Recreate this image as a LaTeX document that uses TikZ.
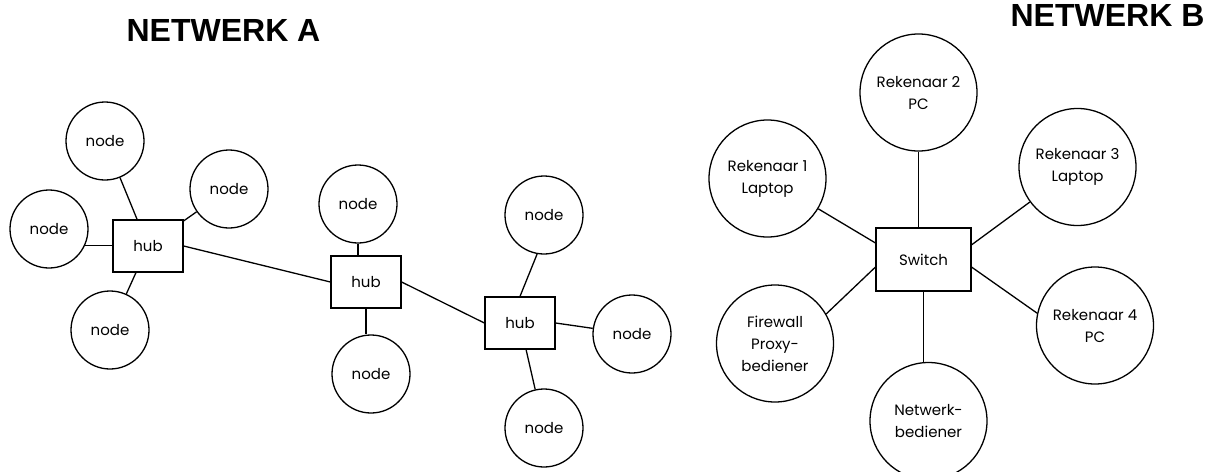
\documentclass[tikz,border=0pt]{standalone}
\usepackage{fontspec}
\setmainfont{Poppins}
\newfontfamily\titelfont{Liberation Sans}
\usetikzlibrary{calc}
\tikzstyle{knoopvorm}=[draw, circle, line width=1.3pt, minimum size=78pt,
  inner sep=0pt, font=\fontsize{15}{22}\selectfont]
\tikzstyle{rekenaarvorm}=[knoopvorm, minimum size=117pt, align=center]
\tikzstyle{spilvorm}=[draw, line width=1.3pt, minimum width=70pt,
  minimum height=52pt, inner sep=0pt, font=\fontsize{15}{22}\selectfont]
\tikzstyle{skakelaarvorm}=[spilvorm, minimum width=95pt, minimum height=63pt]
\tikzstyle{titel}=[font=\titelfont\bfseries\fontsize{32}{38}\selectfont]
\tikzstyle{lyn}=[line width=1.3pt]
\newcommand{\knoop}[2]{node (k#1) [knoopvorm] {#2}}
\newcommand{\rekenaar}[2]{node (r#1) [rekenaarvorm] {#2}}
\newcommand{\spil}[1]{node (h#1) [spilvorm] {hub}}

\begin{document}
\begin{tikzpicture}[x=1pt, y=-1pt]
  \useasboundingbox (0,0) rectangle (1214,471);
  \clip (0,0) rectangle (1214,471);

  % netwerk A
  \node (titelA) [titel] at (223.5,30) {NETWERK A};
  \path (148,246) \spil{1};
  \path (366,282) \spil{2};
  \path (520,323) \spil{3};
  \path (105,141) \knoop{a1}{node};
  \path (229,189) \knoop{a2}{node};
  \path (49,229) \knoop{a3}{node};
  \path (110,330) \knoop{a4}{node};
  \path (358,204) \knoop{a5}{node};
  \path (371,374) \knoop{a6}{node};
  \path (544,215) \knoop{a7}{node};
  \path (632,334) \knoop{a8}{node};
  \path (544,428) \knoop{a9}{node};

  \draw [lyn] (ka1) -- (h1);
  \draw [lyn] (ka2) -- (h1);
  \draw [lyn] (ka3.-25) -- (ka3.-25 -| h1.west);
  \draw [lyn] (ka4) -- (h1);
  \draw [lyn] (h1.east) -- (h2.west);
  \draw [lyn] (ka5.south) -- (ka5.south |- h2.north);
  \draw [lyn] (h2.south) -- (h2.south |- ka6.north);
  \draw [lyn] (h2.east) -- (h3.west);
  \draw [lyn] (ka7.-100) -- (h3.north);
  \draw [lyn] (h3.east) -- (ka8);
  \draw [lyn] (h3) -- (ka9);

  % netwerk B
  \node (titelB) [titel] at (1107.5,15) {NETWERK B};
  \node (sw) [skakelaarvorm] at (923.5,259.5) {Switch};
  \path (767.5,178.5) \rekenaar{1}{Rekenaar 1\\Laptop};
  \path (918.5,92.5) \rekenaar{2}{Rekenaar 2\\PC};
  \path (1077.5,167) \rekenaar{3}{Rekenaar 3\\Laptop};
  \path (1095,325.5) \rekenaar{4}{Rekenaar 4\\PC};
  \path (775,343.5) \rekenaar{f}{Firewall\\Proxy-\\bediener};
  \path (928.5,421) \rekenaar{n}{Netwerk-\\bediener};

  \draw [lyn] (r2.south) -- (r2.south |- sw.north);
  \draw [lyn] (r1) -- (sw.161);
  \draw [lyn] (r3) -- (sw.17);
  \draw [lyn] (rf.30) -- (sw.-171);
  \draw [lyn] (r4.168) -- (sw.-9);
  \draw [lyn] (sw.south) -- (sw.south |- rn.north);
\end{tikzpicture}
\end{document}
